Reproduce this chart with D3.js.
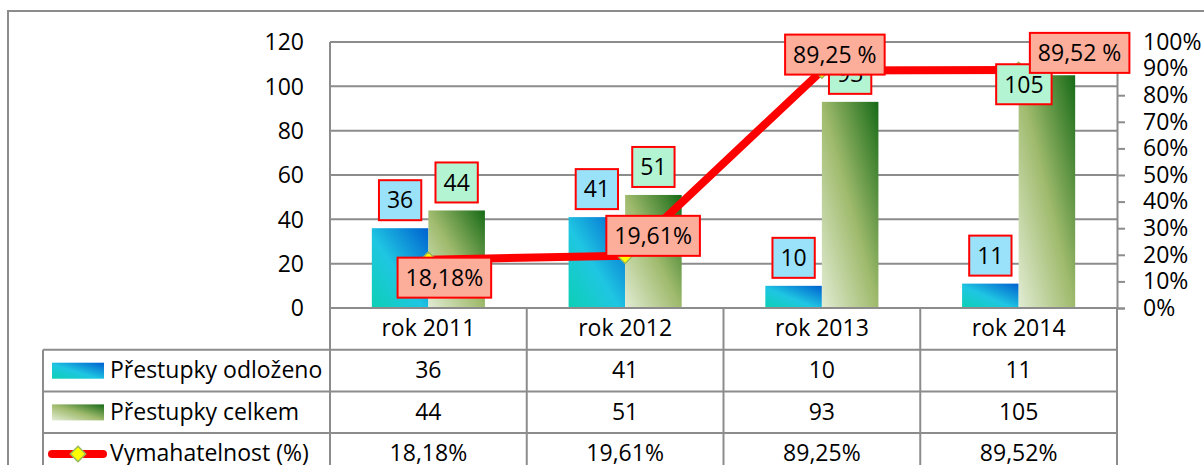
<!DOCTYPE html>
<html>
<head>
<meta charset="utf-8">
<script src="https://cdn.jsdelivr.net/npm/d3@7"></script>
<style>
  body { margin: 0; background: #fff; }
  svg { display: block; font-family: "Open Sans", Lato, sans-serif; }
</style>
</head>
<body>
<svg id="chart" width="1204" height="465"></svg>
<script>
// data
const categories = ["rok 2011", "rok 2012", "rok 2013", "rok 2014"];
const odlozeno = [36, 41, 10, 11];
const celkem = [44, 51, 93, 105];
const vymahatelnost = [18.18, 19.61, 89.25, 89.52];
const lineLabels = ["18,18%", "19,61%", "89,25 %", "89,52 %"];
const tableLabels = ["18,18%", "19,61%", "89,25%", "89,52%"];
const seriesNames = ["Přestupky odloženo", "Přestupky celkem", "Vymahatelnost (%)"];
const leftTicks = [0, 20, 40, 60, 80, 100, 120];
const rightTicks = [0, 0.1, 0.2, 0.3, 0.4, 0.5, 0.6, 0.7, 0.8, 0.9, 1];

// labels that were dragged by hand in the original
const lineNudge = [[16, 18], [28, -20], [13, -16], [61, -17]];
const celkemNudge = [[0, 0], [0, 0], [0, 0], [-23, 37]];

const svg = d3.select("#chart");
const grey = "#8c8c8c";
const plot = { left: 330, right: 1117, top: 42, bottom: 308 };
const rowH = 41.7;
const tableLeft = 43;
const fs = 23;

// outer chart frame
svg.append("rect")
  .attr("x", 8).attr("y", 11).attr("width", 1300).attr("height", 600)
  .attr("fill", "none").attr("stroke", grey).attr("stroke-width", 2);

const defs = svg.append("defs");
function grad(id, stops) {
  const g = defs.append("linearGradient").attr("id", id)
    .attr("x1", 0).attr("y1", 1).attr("x2", 1).attr("y2", 0);
  stops.forEach(([o, c]) => g.append("stop").attr("offset", o).attr("stop-color", c));
}
grad("gBlue", [[0, "#0cd0b4"], [0.45, "#1fc6e2"], [1, "#0060d0"]]);
grad("gGreen", [[0, "#e2ecd4"], [0.5, "#9fba6c"], [1, "#166a16"]]);

const x0 = d3.scaleBand().domain(categories).range([plot.left, plot.right]).padding(0);
const x1 = d3.scaleBand().domain([0, 1]).range([0, x0.bandwidth()]).paddingInner(0).paddingOuter(0.74);
const y = d3.scaleLinear().domain([0, 120]).range([plot.bottom, plot.top]);
const y2 = d3.scaleLinear().domain([0, 1]).range([plot.bottom, plot.top]);

// gridlines
svg.append("g").selectAll("line").data(leftTicks).join("line")
  .attr("x1", plot.left).attr("x2", plot.right)
  .attr("y1", d => y(d)).attr("y2", d => y(d))
  .attr("stroke", grey).attr("stroke-width", 2);
svg.append("line")
  .attr("x1", plot.left).attr("x2", plot.left).attr("y1", plot.top).attr("y2", plot.bottom)
  .attr("stroke", grey).attr("stroke-width", 2);

// left axis labels
svg.append("g").selectAll("text").data(leftTicks).join("text")
  .attr("x", 304).attr("y", d => y(d)).attr("dy", "0.36em")
  .attr("text-anchor", "end").attr("font-size", fs).text(d => d);

// right axis
const rAxis = svg.append("g").attr("transform", `translate(${plot.right},0)`)
  .call(d3.axisRight(y2).tickValues(rightTicks).tickSize(8).tickPadding(18)
    .tickFormat(d => Math.round(d * 100) + "%"));
rAxis.select(".domain").attr("stroke", grey).attr("stroke-width", 2);
rAxis.selectAll(".tick line").attr("stroke", grey).attr("stroke-width", 2);
rAxis.selectAll(".tick text").attr("font-size", fs).attr("font-family", "Open Sans").attr("fill", "#000");

// bars
const bars = svg.append("g");
bars.selectAll("rect.b").data(odlozeno).join("rect").attr("class", "b")
  .attr("x", (d, i) => x0(categories[i]) + x1(0)).attr("width", x1.bandwidth())
  .attr("y", d => y(d)).attr("height", d => y(0) - y(d)).attr("fill", "url(#gBlue)");
bars.selectAll("rect.g").data(celkem).join("rect").attr("class", "g")
  .attr("x", (d, i) => x0(categories[i]) + x1(1)).attr("width", x1.bandwidth())
  .attr("y", d => y(d)).attr("height", d => y(0) - y(d)).attr("fill", "url(#gGreen)");

// line + markers
const cx = c => x0(c) + x0.bandwidth() / 2;
const pts = vymahatelnost.map((v, i) => [cx(categories[i]), y2(v / 100)]);
svg.append("path").datum(pts).attr("d", d3.line())
  .attr("fill", "none").attr("stroke", "#ff0000").attr("stroke-width", 8)
  .attr("stroke-linejoin", "round");
const diamond = d3.symbol().type(d3.symbolDiamond2).size(150);
svg.append("g").selectAll("path").data(pts).join("path")
  .attr("transform", d => `translate(${d[0]},${d[1]})`).attr("d", diamond)
  .attr("fill", "#ffff00").attr("stroke", "#9bbb59").attr("stroke-width", 1.5);

// data label boxes
function label(g, cxp, cyp, txt, fill) {
  const t = g.append("text").attr("x", cxp).attr("y", cyp).attr("dy", "0.36em")
    .attr("text-anchor", "middle").attr("font-size", fs).text(txt);
  const w = t.node().getComputedTextLength();
  g.insert("rect", () => t.node())
    .attr("x", cxp - w / 2 - 8).attr("y", cyp - 20).attr("width", w + 16).attr("height", 40)
    .attr("fill", fill).attr("stroke", "#ff0000").attr("stroke-width", 2);
}
const lbl = svg.append("g");
odlozeno.forEach((v, i) => {
  label(lbl.append("g"), x0(categories[i]) + x1(0) + x1.bandwidth() / 2, y(v) - 28, v, "#99e2fa");
});
celkem.forEach((v, i) => {
  label(lbl.append("g"), x0(categories[i]) + x1(1) + x1.bandwidth() / 2 + celkemNudge[i][0],
    y(v) - 28 + celkemNudge[i][1], v, "#b3f5d3");
});
pts.forEach((p, i) => {
  label(lbl.append("g"), p[0] + lineNudge[i][0], p[1] + lineNudge[i][1], lineLabels[i], "#fdae9b");
});

// data table
const tbl = svg.append("g");
const rowsY = [plot.bottom, plot.bottom + rowH, plot.bottom + 2 * rowH, plot.bottom + 3 * rowH, plot.bottom + 4 * rowH];
rowsY.slice(1).forEach(ry => tbl.append("line")
  .attr("x1", tableLeft).attr("x2", plot.right).attr("y1", ry).attr("y2", ry)
  .attr("stroke", grey).attr("stroke-width", 2));
tbl.append("line").attr("x1", tableLeft).attr("x2", tableLeft).attr("y1", rowsY[1]).attr("y2", rowsY[4])
  .attr("stroke", grey).attr("stroke-width", 2);
const colEdges = categories.map(c => x0(c)).concat([plot.right]);
tbl.selectAll("line.v").data(colEdges).join("line").attr("class", "v")
  .attr("x1", d => d).attr("x2", d => d).attr("y1", plot.bottom).attr("y2", rowsY[4])
  .attr("stroke", grey).attr("stroke-width", 2);
svg.append("line").attr("x1", plot.left).attr("x2", plot.right).attr("y1", plot.bottom).attr("y2", plot.bottom)
  .attr("stroke", grey).attr("stroke-width", 2);

const rows = [categories, odlozeno, celkem, tableLabels];
rows.forEach((r, ri) => {
  tbl.append("g").selectAll("text").data(r).join("text")
    .attr("x", (d, i) => cx(categories[i])).attr("y", rowsY[ri] + rowH / 2 - 1).attr("dy", "0.36em")
    .attr("text-anchor", "middle").attr("font-size", fs).text(d => d);
});

// legend keys in the table
seriesNames.forEach((n, i) => {
  const my = rowsY[i + 1] + rowH / 2 - 1;
  tbl.append("text").attr("x", 110).attr("y", my).attr("dy", "0.36em").attr("font-size", fs).text(n);
});
tbl.append("rect").attr("x", 52).attr("y", rowsY[1] + 13).attr("width", 52).attr("height", 16).attr("fill", "url(#gBlue)");
tbl.append("rect").attr("x", 52).attr("y", rowsY[2] + 13).attr("width", 52).attr("height", 16).attr("fill", "url(#gGreen)");
const ly = rowsY[3] + rowH / 2;
tbl.append("line").attr("x1", 52).attr("x2", 103).attr("y1", ly).attr("y2", ly)
  .attr("stroke", "#ff0000").attr("stroke-width", 8).attr("stroke-linecap", "round");
tbl.append("path").attr("transform", `translate(78,${ly})`).attr("d", diamond)
  .attr("fill", "#ffff00").attr("stroke", "#9bbb59").attr("stroke-width", 1.5);
</script>
</body>
</html>
